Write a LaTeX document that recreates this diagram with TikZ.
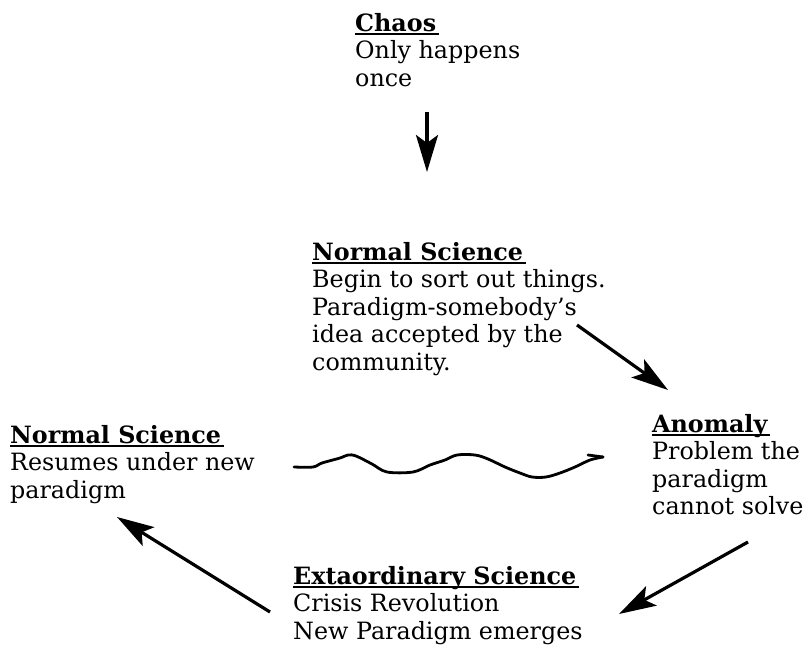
\documentclass[tikz,border=0pt]{standalone}
\usepackage{fontspec}
\setmainfont{DejaVu Serif}
\usetikzlibrary{arrows.meta}
\newcommand\hdr[1]{\setbox0=\hbox{\bfseries #1}\rlap{\rule[-4pt]{\dimexpr\wd0+3pt\relax}{1.8pt}}\box0}
\tikzset{
  txt/.style={anchor=north west, inner sep=0pt, align=left, font=\fontsize{23.8}{27.5}\selectfont},
  arr/.style={line width=3.2pt, -{Stealth[length=37pt,width=22pt,inset=8pt]}},
  wave/.style={line width=2.8pt, line cap=round, line join=round}
}
\begin{document}
\begin{tikzpicture}[x=1pt,y=-1pt]
\useasboundingbox (0,0) rectangle (808,650);
\fill[white] (0,0) rectangle (808,650);
\node[txt] (chaos) at (355,13) {\hdr{Chaos}\\Only happens\\once};
\node[txt] (ns1) at (312,242) {\hdr{Normal Science}\\Begin to sort out things.\\Paradigm-somebody's\\idea accepted by the\\community.};
\node[txt] (anomaly) at (652,414) {\hdr{Anomaly}\\Problem the\\paradigm\\cannot solve};
\node[txt] (ns2) at (10,425) {\hdr{Normal Science}\\Resumes under new\\paradigm};
\node[txt] (extra) at (293,566) {\hdr{Extaordinary Science}\\Crisis Revolution\\New Paradigm emerges};
\coordinate (a1s) at (427,112); \coordinate (a1e) at (427,172);
\coordinate (a2s) at (577,325); \coordinate (a2e) at (668,390);
\coordinate (a3s) at (748,542); \coordinate (a3e) at (619,614);
\coordinate (a4s) at (270,612); \coordinate (a4e) at (117,517);
\draw[arr] (a1s) -- (a1e);
\draw[arr] (a2s) -- (a2e);
\draw[arr] (a3s) -- (a3e);
\draw[arr] (a4s) -- (a4e);
\draw[wave] plot[smooth, tension=0.55] coordinates {(294,467) (313,467) (322,463) (340,458) (348,455) (356,456) (372,464) (387,472) (413,472) (430,465) (445,460) (457,455) (475,455) (488,459) (505,467) (520,473) (532,477) (546,477) (560,473) (575,467) (590,460) (603,457)};
\draw[wave] (588,455) -- (603,457);
\end{tikzpicture}
\end{document}
